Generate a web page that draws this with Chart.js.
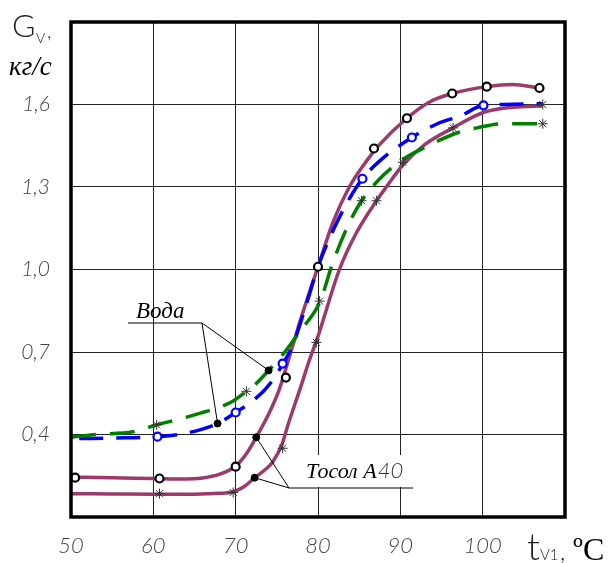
<!DOCTYPE html>
<html>
<head>
<meta charset="utf-8">
<script src="https://cdn.jsdelivr.net/npm/chart.js@4/dist/chart.umd.min.js"></script>
<style>
  body { margin: 0; background: #fff; }
  #wrap { width: 609px; height: 563px; }
</style>
</head>
<body>
<div id="wrap"><canvas id="grafica" width="609" height="563"></canvas></div>
<script>
// ticks
const xTicks = [50, 60, 70, 80, 90, 100, 110];
const yTicks = [0.1, 0.4, 0.7, 1.0, 1.3, 1.6, 1.9];

// Тосол А40, upper curve (open circles)
const tosolHiX = [50, 55, 60, 64, 66, 68, 70, 71.3, 72.5, 74.1, 75.3, 76.9, 77.8, 80, 81.8, 83.8, 85.9, 87.5, 90.8, 93.6, 96.3, 100.5, 103.6, 106.9];
const tosolHiY = [0.245, 0.243, 0.24, 0.238, 0.242, 0.255, 0.285, 0.33, 0.39, 0.48, 0.564, 0.72, 0.81, 1.01, 1.17, 1.3, 1.395, 1.455, 1.55, 1.61, 1.64, 1.665, 1.673, 1.66];
// Тосол А40, lower curve (stars)
const tosolLoX = [50, 55, 60, 65, 68, 69.7, 71, 72.3, 73.5, 74.5, 75.7, 76.3, 77.8, 79, 80, 82.6, 84.6, 87.1, 88.3, 90.3, 93, 96.4, 100, 103.7, 107.3];
const tosolLoY = [0.185, 0.184, 0.183, 0.183, 0.186, 0.192, 0.21, 0.243, 0.27, 0.3, 0.37, 0.43, 0.564, 0.674, 0.757, 1.0, 1.13, 1.25, 1.3, 1.38, 1.455, 1.515, 1.57, 1.59, 1.595];
// Вода, blue dashed
const vodaBlueX = [51, 55, 60.5, 64, 67.8, 70, 72.3, 73.9, 75.7, 77, 78.5, 80, 81.8, 83.8, 85.4, 87.5, 91.4, 94.5, 97.4, 100.1, 102.5, 107.3];
const vodaBlueY = [0.385, 0.387, 0.392, 0.405, 0.44, 0.48, 0.528, 0.575, 0.655, 0.73, 0.865, 1.01, 1.14, 1.257, 1.33, 1.395, 1.48, 1.53, 1.56, 1.597, 1.6, 1.603];
// Вода, green dashed
const vodaGreenX = [50, 53, 57.5, 60.4, 65.2, 69.6, 71.3, 72.3, 74, 75.7, 77.8, 80.2, 81.8, 83.8, 85.3, 87.5, 90.3, 92.7, 97.2, 99.3, 102.3, 107.3];
const vodaGreenY = [0.39, 0.4, 0.41, 0.435, 0.473, 0.52, 0.557, 0.58, 0.633, 0.69, 0.775, 0.88, 1.025, 1.17, 1.25, 1.33, 1.4, 1.44, 1.5, 1.515, 1.53, 1.53];

// markers
const circleX = [50.5, 60.75, 70, 76.1, 80, 86.8, 90.8, 96.3, 100.5, 106.9];
const circleY = [0.243, 0.24, 0.283, 0.607, 1.01, 1.44, 1.55, 1.64, 1.665, 1.66];
const blueCircleX = [60.5, 70, 75.7, 85.4, 91.4, 100.1];
const blueCircleY = [0.392, 0.48, 0.658, 1.33, 1.48, 1.597];
const starX = [60.75, 69.7, 75.7, 79.8, 87.1, 90.3, 96.4, 107.3, 60.4, 71.3, 80.2, 85.3, 107.3];
const starY = [0.185, 0.189, 0.35, 0.735, 1.25, 1.39, 1.515, 1.6, 0.435, 0.557, 0.885, 1.25, 1.53];
// black dots where the labels point: Вода (2), Тосол (2)
const dotX = [67.8, 74.0, 72.5, 72.3];
const dotY = [0.44, 0.633, 0.39, 0.243];

const pts = (xs, ys) => xs.map((x, i) => ({ x: x, y: ys[i] }));

const purple = '#9b3a6b';

const curva = (data, color, dash, order) => ({
  data: data,
  borderColor: color,
  borderWidth: 3.5,
  borderDash: dash,
  pointRadius: 0,
  cubicInterpolationMode: 'monotone',
  fill: false,
  order: order
});

const marcas = (data, style, radius, border, fillColor, width, order) => ({
  data: data,
  showLine: false,
  pointStyle: style,
  pointRadius: radius,
  pointBorderColor: border,
  pointBackgroundColor: fillColor,
  pointBorderWidth: width,
  order: order
});

const extras = {
  id: 'extras',
  beforeDatasetsDraw(chart) {
    const ctx = chart.ctx;
    // white box behind "Тосол А40"
    ctx.save();
    ctx.fillStyle = '#fff';
    ctx.fillRect(300, 455, 112, 32);
    ctx.restore();
  },
  afterDatasetsDraw(chart) {
    const ctx = chart.ctx;
    const xs = chart.scales.x, ys = chart.scales.y;
    const px = i => xs.getPixelForValue(dotX[i]);
    const py = i => ys.getPixelForValue(dotY[i]);
    ctx.save();
    ctx.strokeStyle = '#000';
    ctx.lineWidth = 1;
    // Вода
    ctx.beginPath();
    ctx.moveTo(128, 323); ctx.lineTo(202, 323);
    ctx.lineTo(px(1), py(1));
    ctx.moveTo(202, 323); ctx.lineTo(px(0), py(0));
    // Тосол
    ctx.moveTo(413, 488); ctx.lineTo(289, 488);
    ctx.lineTo(px(2), py(2));
    ctx.moveTo(289, 488); ctx.lineTo(px(3), py(3));
    ctx.stroke();

    ctx.fillStyle = '#000';
    ctx.textBaseline = 'alphabetic';
    ctx.font = 'italic 23px "Liberation Serif"';
    ctx.fillText('Вода', 136, 318);
    ctx.font = 'italic 22px "Liberation Serif"';
    ctx.fillText('Тосол А', 306, 478);
    const w = ctx.measureText('Тосол А').width;
    ctx.fillStyle = '#333';
    ctx.font = 'italic 300 22px Lato, Roboto, sans-serif';
    ctx.fillText('40', 306 + w + 1, 478);
    ctx.restore();
  },
  afterDraw(chart) {
    const ctx = chart.ctx;
    const a = chart.chartArea;
    ctx.save();
    ctx.strokeStyle = '#000';
    ctx.lineWidth = 3.5;
    ctx.strokeRect(a.left, a.top, a.right - a.left, a.bottom - a.top);

    // y title
    ctx.fillStyle = '#222';
    ctx.textBaseline = 'alphabetic';
    ctx.font = '300 32px Lato, Roboto, sans-serif';
    ctx.fillText('G', 12, 37);
    ctx.font = '300 14px Lato, Roboto, sans-serif';
    ctx.fillText('V', 36, 43);
    ctx.font = '300 20px Lato, Roboto, sans-serif';
    ctx.fillText(',', 47, 38);
    ctx.fillStyle = '#000';
    ctx.font = 'italic 27px "Liberation Serif"';
    ctx.fillText('кг/с', 9, 75);

    // x title
    ctx.fillStyle = '#222';
    ctx.font = '300 38px Lato, Roboto, sans-serif';
    ctx.fillText('t', 527, 560);
    ctx.font = '300 15px Lato, Roboto, sans-serif';
    ctx.fillText('V1', 540, 560);
    ctx.font = '300 24px Lato, Roboto, sans-serif';
    ctx.fillText(',', 560, 560);
    ctx.fillStyle = '#000';
    ctx.font = '32px "Liberation Serif"';
    ctx.fillText('ºC', 573, 560);
    ctx.restore();
  }
};

const tickFont = { family: 'Lato, Roboto, sans-serif', size: 22, style: 'italic', weight: '300' };

new Chart(document.getElementById('grafica').getContext('2d'), {
  type: 'line',
  data: {
    datasets: [
      curva(pts(tosolHiX, tosolHiY), purple, [], 10),
      curva(pts(tosolLoX, tosolLoY), purple, [], 11),
      curva(pts(vodaBlueX, vodaBlueY), '#0000ff', [24, 13], 9),
      curva(pts(vodaGreenX, vodaGreenY), '#008000', [25, 14], 8),
      marcas(pts(starX, starY), 'star', 5, '#333', '#333', 1, 4),
      marcas(pts(circleX, circleY), 'circle', 4, '#000', '#fff', 2.2, 3),
      marcas(pts(blueCircleX, blueCircleY), 'circle', 4, '#0000ff', '#fff', 2.2, 2),
      marcas(pts(dotX, dotY), 'circle', 3.5, '#000', '#000', 1, 1)
    ]
  },
  options: {
    responsive: false,
    animation: false,
    layout: { padding: { left: 0, top: 22, right: 44, bottom: 0 }, autoPadding: false },
    plugins: { legend: { display: false }, tooltip: { enabled: false } },
    scales: {
      x: {
        type: 'linear',
        min: 50,
        max: 110,
        afterBuildTicks: s => { s.ticks = xTicks.map(v => ({ value: v })); },
        afterFit: s => { s.height = 46; s.paddingLeft = 0; s.paddingRight = 0; },
        grid: { color: '#222', lineWidth: 1, drawTicks: false },
        border: { display: false },
        ticks: {
          padding: 16,
          color: '#444',
          font: tickFont,
          maxRotation: 0,
          callback: v => (v === 110 ? null : String(v))
        }
      },
      y: {
        type: 'linear',
        min: 0.1,
        max: 1.9,
        afterBuildTicks: s => { s.ticks = yTicks.map(v => ({ value: v })); },
        afterFit: s => { s.width = 71; s.paddingTop = 0; s.paddingBottom = 0; },
        grid: { color: '#222', lineWidth: 1, drawTicks: false },
        border: { display: false },
        ticks: {
          padding: 21,
          color: '#444',
          font: { family: 'Lato, Roboto, sans-serif', size: 21, style: 'italic', weight: '300' },
          callback: v => (v === 0.1 || v === 1.9 ? null : v.toFixed(1).replace('.', ','))
        }
      }
    }
  },
  plugins: [extras]
});
</script>
</body>
</html>
